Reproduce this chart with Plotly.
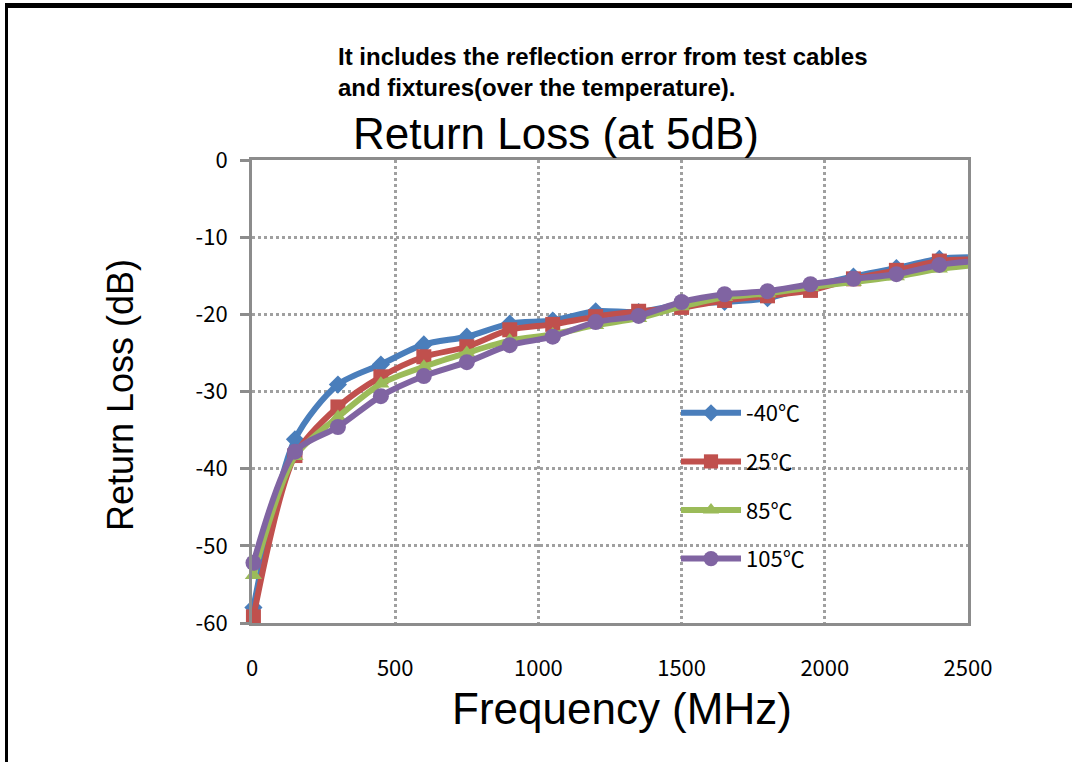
import plotly.graph_objects as go

# ---- data ----
freq_mhz = [5, 150, 300, 450, 600, 750, 900, 1050, 1200, 1350, 1500, 1650, 1800, 1950, 2100, 2250, 2400, 2500]
rl_m40 = [-58.0, -36.2, -29.1, -26.5, -23.9, -22.9, -21.2, -20.8, -19.6, -19.7, -18.7, -18.4, -17.9, -16.4, -15.1, -14.0, -12.8, -12.6]
rl_25 = [-59.2, -38.3, -32.0, -28.1, -25.5, -24.2, -22.0, -21.3, -20.3, -19.6, -19.1, -18.2, -17.6, -16.9, -15.4, -14.3, -13.1, -12.9]
rl_85 = [-53.8, -38.4, -33.3, -29.0, -26.8, -25.0, -23.4, -22.6, -21.4, -20.5, -19.0, -17.8, -17.3, -16.5, -15.8, -15.1, -14.1, -13.7]
rl_105 = [-52.2, -37.8, -34.6, -30.6, -28.0, -26.2, -24.0, -22.9, -21.0, -20.2, -18.4, -17.4, -17.0, -16.1, -15.4, -14.8, -13.6, -13.2]
series_names = ["-40℃", "25℃", "85℃", "105℃"]
x_ticks = [0, 500, 1000, 1500, 2000, 2500]
x_tick_labels = ["0", "500", "1000", "1500", "2000", "2500"]
y_ticks = [0, -10, -20, -30, -40, -50, -60]
y_tick_labels = ["0", "-10", "-20", "-30", "-40", "-50", "-60"]

colors = ["#4A7EBB", "#C0504D", "#9BBB59", "#8064A2"]
symbols = ["diamond", "square", "triangle-up", "circle"]
msizes = [14, 15, 15, 16]
all_series = [rl_m40, rl_25, rl_85, rl_105]

W, H = 1072, 762
# plot-area pixel positions on the page
PL, PR, PT, PB = 252, 968, 160, 623
L, T = PL, PT
R, B = W - PR, H - PB
PW, PH = PR - PL, PB - PT


def px(xp):
    return (xp - PL) / PW


def py(yp):
    return 1 - (yp - PT) / PH


fig = go.Figure()
for name, ys, c, s, ms in zip(series_names, all_series, colors, symbols, msizes):
    sizes = [ms] * (len(ys) - 1) + [0]
    fig.add_trace(go.Scatter(
        x=freq_mhz, y=ys, name=name, mode="lines+markers",
        line=dict(color=c, width=6, shape="spline", smoothing=0.8),
        marker=dict(symbol=s, size=sizes, color=c, opacity=1, line=dict(width=0)),
        cliponaxis=False, legendgroup=name,
    ))

grid = dict(showgrid=True, gridcolor="#A0A0A0", gridwidth=3, griddash="dot",
            showline=True, linecolor="#8C8C8C", linewidth=3, mirror=True, zeroline=False)
tickfont = dict(family="Noto Sans CJK SC, Noto Sans, sans-serif", size=22, color="#000000")

fig.update_layout(
    width=W, height=H,
    margin=dict(l=L, r=R, t=T, b=B, autoexpand=False),
    paper_bgcolor="white", plot_bgcolor="white",
    showlegend=True,
    legend=dict(x=px(676), y=py(392), xanchor="left", yanchor="top",
                bgcolor="rgba(0,0,0,0)", font=dict(family="Noto Sans CJK SC, sans-serif", size=22, color="#000"),
                tracegroupgap=17, itemwidth=60),
    xaxis=dict(range=[0, 2500], tickvals=x_ticks, ticktext=x_tick_labels, ticks="", tickfont=tickfont,
               ticklabelstandoff=24, **grid),
    yaxis=dict(range=[-60, 0], tickvals=y_ticks, ticktext=y_tick_labels, ticks="outside", ticklen=9, tickwidth=3,
               tickcolor="#8C8C8C", tickfont=tickfont, ticklabelstandoff=8, **grid),
)

ann_font = dict(family="Liberation Sans, Arial, sans-serif", color="#000000")
fig.add_annotation(text="Return Loss (at 5dB)", xref="paper", yref="paper",
                   x=px(556), y=py(133), xanchor="center", yanchor="middle", showarrow=False,
                   font=dict(size=44, **ann_font))
fig.add_annotation(text="<b>It includes the reflection error from test cables<br>and fixtures(over the temperature).</b>",
                   xref="paper", yref="paper", x=px(336), y=py(72), xanchor="left", yanchor="middle",
                   align="left", showarrow=False, font=dict(size=24, **ann_font))
fig.add_annotation(text="Frequency (MHz)", xref="paper", yref="paper",
                   x=px(622), y=py(708), xanchor="center", yanchor="middle", showarrow=False,
                   font=dict(size=44, **ann_font))
fig.add_annotation(text="Return Loss (dB)", xref="paper", yref="paper", textangle=-90,
                   x=px(120), y=py(395), xanchor="center", yanchor="middle", showarrow=False,
                   font=dict(size=36, **ann_font))

# outer frame lines (top and left)
fig.add_shape(type="rect", xref="paper", yref="paper", x0=px(7), x1=px(W), y0=py(8), y1=py(3),
              fillcolor="black", line=dict(width=0), layer="above")
fig.add_shape(type="rect", xref="paper", yref="paper", x0=px(5), x1=px(8), y0=py(H), y1=py(3),
              fillcolor="black", line=dict(width=0), layer="above")

fig.write_html("out.html", config={"displayModeBar": False},
               post_script="document.body.style.margin='0px';document.body.style.overflow='hidden';")
